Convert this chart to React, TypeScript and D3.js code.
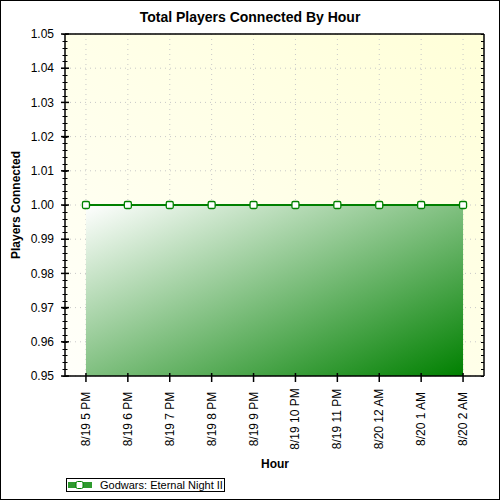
import React from 'react';
import * as d3 from 'd3';

// chart data
const hours = [
  '8/19 5 PM', '8/19 6 PM', '8/19 7 PM', '8/19 8 PM', '8/19 9 PM',
  '8/19 10 PM', '8/19 11 PM', '8/20 12 AM', '8/20 1 AM', '8/20 2 AM',
];
const players = [1, 1, 1, 1, 1, 1, 1, 1, 1, 1];
const yTicks = [0.95, 0.96, 0.97, 0.98, 0.99, 1.0, 1.01, 1.02, 1.03, 1.04, 1.05];
const seriesName = 'Godwars: Eternal Night II';

const W = 500;
const H = 500;
const left = 65;
const right = 484;
const top = 34;
const bottom = 376;
const font = 'Arial, "Liberation Sans", sans-serif';

const App: React.FC = () => {
  const x = d3.scalePoint<string>().domain(hours).range([left, right]).padding(0.5);
  const y = d3.scaleLinear().domain([0.95, 1.05]).range([bottom, top]);

  const minorTicks = d3.range(0, 51).map(i => 0.95 + i * 0.002);

  const area = d3.area<number>()
    .x((_, i) => x(hours[i]) as number)
    .y0(bottom)
    .y1(d => y(d));
  const line = d3.line<number>()
    .x((_, i) => x(hours[i]) as number)
    .y(d => y(d));

  return (
    <div style={{ position: 'absolute', left: 0, top: 0 }}>
      <svg width={W} height={H} style={{ display: 'block', fontFamily: font }}>
        <defs>
          <linearGradient id="bg" x1="0" y1="1" x2="1" y2="0">
            <stop offset="0%" stopColor="#fffffa" />
            <stop offset="100%" stopColor="#ffffd8" />
          </linearGradient>
          {/* diagonal in bounding-box space, like GDI+ ForwardDiagonal */}
          <linearGradient id="fill" x1="0" y1="0" x2="1" y2="1">
            <stop offset="0%" stopColor="#ffffff" />
            <stop offset="100%" stopColor="#008000" />
          </linearGradient>
        </defs>

        <rect x={0.5} y={0.5} width={W - 1} height={H - 1} fill="#ffffff" stroke="#000" />

        {/* plot background */}
        <rect x={left} y={top} width={right - left} height={bottom - top} fill="url(#bg)" />

        {/* grid */}
        {yTicks.map(t => (
          <line key={'gy' + t} x1={left} x2={right} y1={y(t)} y2={y(t)}
            stroke="#c8c8c8" strokeDasharray="1,4" />
        ))}
        {hours.map(h => (
          <line key={'gx' + h} x1={x(h)} x2={x(h)} y1={top} y2={bottom}
            stroke="#c8c8c8" strokeDasharray="1,4" />
        ))}

        {/* area + line */}
        <path d={area(players) ?? ''} fill="url(#fill)" />
        <path d={line(players) ?? ''} fill="none" stroke="#008000" strokeWidth={2.2} />
        {players.map((v, i) => (
          <rect key={'m' + i} x={(x(hours[i]) as number) - 3.5} y={y(v) - 3.5} width={7} height={7}
            rx={1.5} fill="#fff" stroke="#008000" strokeWidth={1.3} />
        ))}

        {/* axes frame */}
        <line x1={left} x2={left} y1={top} y2={bottom + 0.5} stroke="#000" strokeWidth={1.5} />
        <line x1={left} x2={right} y1={bottom} y2={bottom} stroke="#000" strokeWidth={1.5} />
        <line x1={right} x2={right} y1={top} y2={bottom} stroke="#000" strokeWidth={1.5} />
        <line x1={left} x2={right} y1={top} y2={top} stroke="#000" strokeWidth={1.5} />

        {/* y ticks */}
        {minorTicks.map((t, i) => (
          <g key={'mt' + i}>
            <line x1={left - 2.5} x2={left + 2.5} y1={Math.round(y(t)) + 0.5} y2={Math.round(y(t)) + 0.5} stroke="#000" />
            <line x1={right - 3} x2={right} y1={Math.round(y(t)) + 0.5} y2={Math.round(y(t)) + 0.5} stroke="#000" />
          </g>
        ))}
        {yTicks.map(t => (
          <g key={'yt' + t}>
            <line x1={left - 4} x2={left + 4} y1={y(t)} y2={y(t)} stroke="#000" strokeWidth={1.5} />
            <text x={54} y={y(t)} dy="0.35em" textAnchor="end" fontSize={12} fill="#000">
              {d3.format('.2f')(t)}
            </text>
          </g>
        ))}

        {/* x ticks */}
        {hours.map(h => (
          <g key={'xt' + h}>
            <line x1={x(h)} x2={x(h)} y1={bottom - 3} y2={bottom + 6} stroke="#000" strokeWidth={1.5} />
            <text transform={`translate(${(x(h) as number) + 4},419) rotate(-90)`}
              textAnchor="middle" fontSize={12} fill="#000">{h}</text>
          </g>
        ))}

        {/* titles */}
        <text x={250} y={22} textAnchor="middle" fontSize={14} fontWeight="bold">
          Total Players Connected By Hour
        </text>
        <text x={275} y={468} textAnchor="middle" fontSize={12} fontWeight="bold">Hour</text>
        <text transform={`translate(20,${(top + bottom) / 2}) rotate(-90)`} textAnchor="middle"
          fontSize={12} fontWeight="bold">Players Connected</text>

        {/* legend */}
        <rect x={66.5} y={478.5} width={158} height={13} fill="#fff" stroke="#000" />
        <rect x={68} y={482} width={24} height={6} fill="#2e9a2e" />
        <rect x={76} y={481.5} width={7} height={7} rx={1.5} fill="#fff" stroke="#008000" />
        <text x={100} y={489} fontSize={11} fill="#000">{seriesName}</text>
      </svg>
    </div>
  );
};

export default App;
